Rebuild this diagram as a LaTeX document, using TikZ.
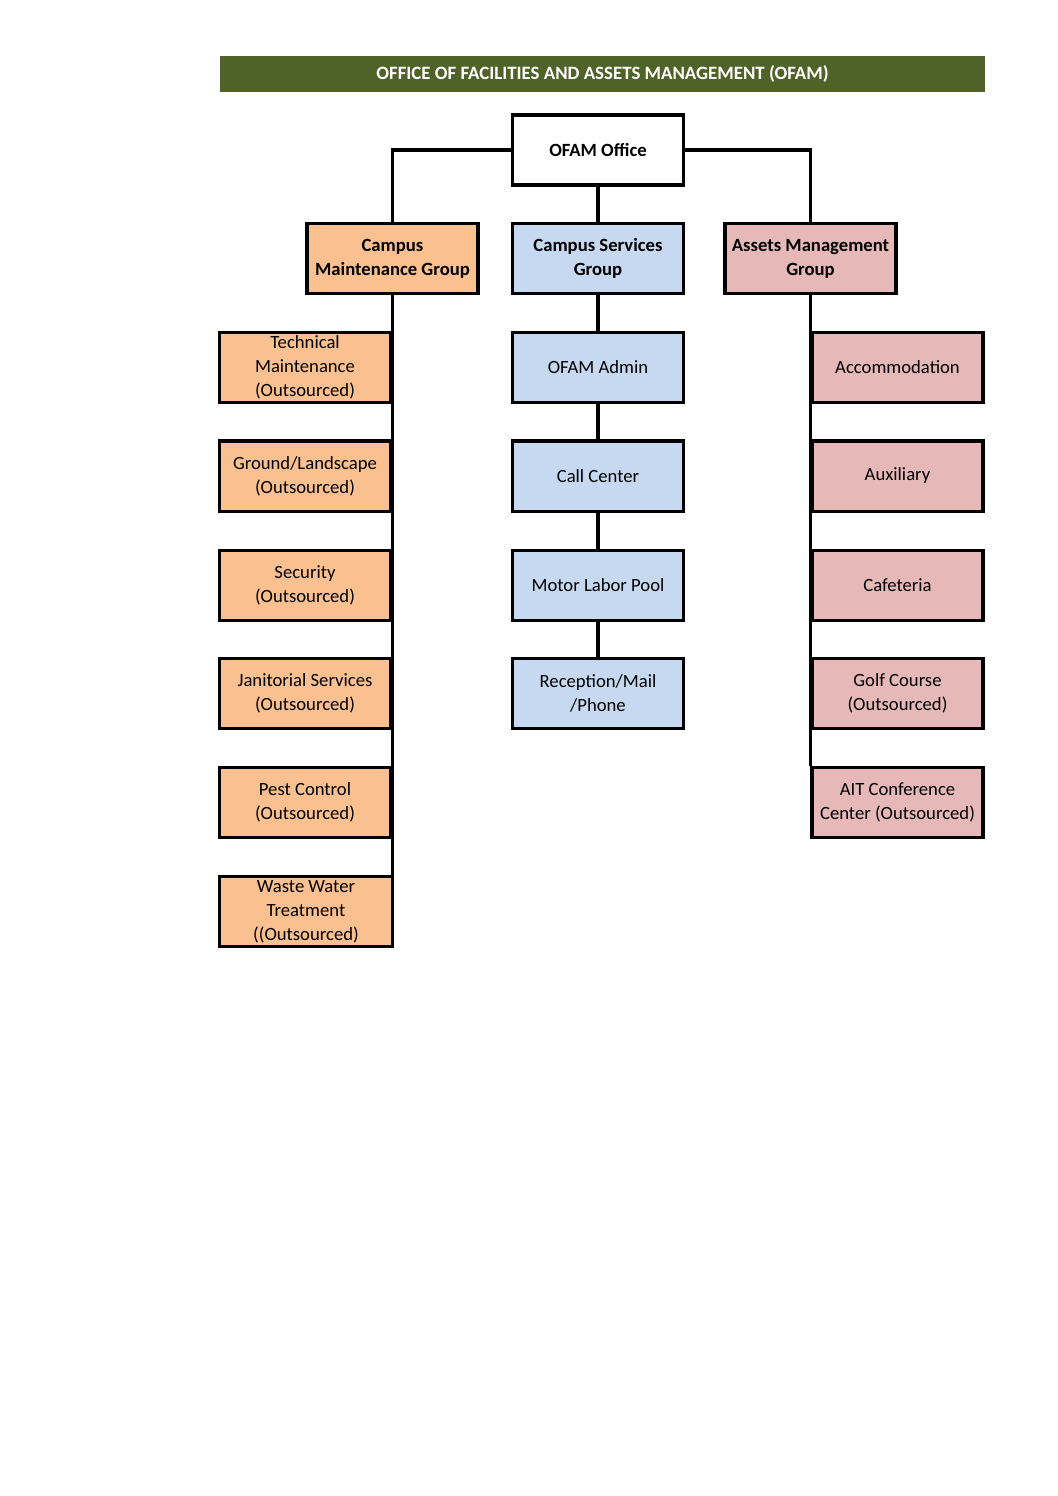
\documentclass[tikz,border=0pt]{standalone}
\usepackage{fontspec}
\setmainfont{Carlito}
\definecolor{bandgreen}{HTML}{4F6228}
\definecolor{orangefill}{HTML}{FAC090}
\definecolor{bluefill}{HTML}{C6D9F1}
\definecolor{pinkfill}{HTML}{E6B9B8}
\tikzset{
  box/.style={draw=black, line width=1.7pt, minimum width=171*0.5625pt, minimum height=70*0.5625pt,
    inner sep=0pt, align=center, font=\fontsize{10.5}{13.6}\selectfont},
  boldbox/.style={font=\fontsize{10.5}{13.6}\selectfont\bfseries},
  orangebox/.style={box, fill=orangefill},
  bluebox/.style={box, fill=bluefill},
  pinkbox/.style={box, fill=pinkfill},
  link/.style={draw=black, line width=1.7pt}
}
\begin{document}
\begin{tikzpicture}[x=0.5625pt, y=-0.5625pt]
\useasboundingbox (0,0) rectangle (1058,1496);
% title band
\node[fill=bandgreen, minimum width=765*0.5625pt, minimum height=36*0.5625pt, inner sep=0pt,
  text=white, font=\fontsize{10.6}{12}\selectfont\bfseries] (title) at (602.5,74) {OFFICE OF FACILITIES AND ASSETS MANAGEMENT (OFAM)};
% top
\node[box, fill=white, boldbox] (ofam) at (598,150) {OFAM Office};
\node[orangebox, boldbox] (cm) at (392.5,258.5) {Campus\\Maintenance Group};
\node[bluebox, boldbox] (cs) at (598,258.5) {Campus Services\\Group};
\node[pinkbox, boldbox] (am) at (810.5,258.5) {Assets Management\\Group};
% left column
\node[orangebox] (l1) at (305,367.5) {Technical\\Maintenance\\(Outsourced)};
\node[orangebox] (l2) at (305,476) {Ground/Landscape\\(Outsourced)};
\node[orangebox] (l3) at (305,585) {Security\\(Outsourced)};
\node[orangebox] (l4) at (305,693.5) {Janitorial Services\\(Outsourced)};
\node[orangebox] (l5) at (305,802.5) {Pest Control\\(Outsourced)};
\node[orangebox, minimum width=173*0.5625pt] (l6) at (306,911.5) {Waste Water\\Treatment\\((Outsourced)};
% middle column
\node[bluebox] (m1) at (598,367.5) {OFAM Admin};
\node[bluebox] (m2) at (598,476) {Call Center};
\node[bluebox] (m3) at (598,585) {Motor Labor Pool};
\node[bluebox] (m4) at (598,693.5) {Reception/Mail\\/Phone};
% right column
\node[pinkbox] (r1) at (897.5,367.5) {Accommodation};
\node[pinkbox] (r2) at (897.5,476) {Auxiliary};
\node[pinkbox] (r3) at (897.5,585) {Cafeteria};
\node[pinkbox] (r4) at (897.5,693.5) {Golf Course\\(Outsourced)};
\node[pinkbox] (r5) at (897.5,802.5) {AIT Conference\\Center (Outsourced)};
% connectors
\draw[link] (ofam.west) -| (cm.north);
\draw[link] (ofam.east) -| (am.north);
\draw[link] (ofam.south) -- (cs.north);
\draw[link] (cm.south) -- (cm.south |- l6.north);
\draw[link] (am.south) -- (am.south |- r5.north);
\draw[link] (cs.south) -- (m1.north);
\draw[link] (m1.south) -- (m2.north);
\draw[link] (m2.south) -- (m3.north);
\draw[link] (m3.south) -- (m4.north);
\end{tikzpicture}
\end{document}
